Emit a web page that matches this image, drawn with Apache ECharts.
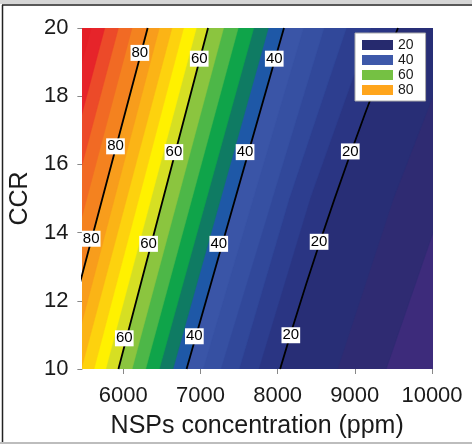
<!DOCTYPE html>
<html>
<head>
<meta charset="utf-8">
<script src="https://cdn.jsdelivr.net/npm/echarts@6/dist/echarts.min.js"></script>
<style>html,body{margin:0;padding:0;background:#fff;}#c{width:472px;height:444px;}</style>
</head>
<body>
<div id="c"></div>
<script>
// ---- data ----
const xMin = 5470, xMax = 10000;
const xTicks = [6000, 7000, 8000, 9000, 10000];
const yMin = 10, yMax = 20;
// band boundary levels (region with value >= level lies to the left of the boundary)
const levels = [8, 12, 16, 20, 24, 28, 32, 36, 40, 44, 48, 52, 56, 60, 64, 68, 72, 76, 80, 84, 88, 92, 96];
// x position of each boundary at CCR = 20, 15, 10
const boundTop = [11616, 10922, 10354, 9559, 9206, 8890, 8600, 8335, 8082, 7880, 7691, 7489, 7300, 7098, 6947, 6782, 6631, 6467, 6316, 6114, 5937, 5760, 5584];
const boundMid = [10859, 10165, 9500, 8739, 8420, 8150, 7931, 7685, 7451, 7262, 7079, 6890, 6707, 6517, 6360, 6202, 6044, 5886, 5729, 5527, 5350, 5173, 5003];
const boundBot = [10165, 9407, 8776, 8032, 7754, 7502, 7262, 7035, 6820, 6644, 6467, 6290, 6114, 5937, 5773, 5621, 5457, 5306, 5142, 4940, 4763, 4587, 4423];
const bandColors = ['#3d2b7b', '#2f2b72', '#282e76', '#2a3583', '#2d3e8f', '#31489a', '#3650a2', '#3a55a7', '#1e58a7', '#0f7b63', '#0fa44a', '#4db748', '#8bc53f', '#d6df23', '#fff100', '#fdd20e', '#fbb416', '#f89d1c', '#f4821f', '#f16a24', '#ec4a29', '#e6242a', '#e41e26'];
const baseColor = '#482d82';
// contour lines drawn
const contourLevels = [20, 40, 60, 80];
// contour label positions [x, CCR]
const label20 = [[8941, 16.38], [8537, 13.73], [8171, 10.99]];
const label40 = [[7956, 19.10], [7578, 16.36], [7237, 13.67], [6921, 10.96]];
const label60 = [[6984, 19.10], [6656, 16.36], [6328, 13.67], [6013, 10.90]];
const label80 = [[6215, 19.27], [5899, 16.53], [5584, 13.82]];
// legend
const legendNames = ['20', '40', '60', '80'];
const legendColors = ['#262a6e', '#3d58a9', '#75c143', '#ffa51c'];

const FONT = '"Liberation Sans", Arial, sans-serif';
const chart = echarts.init(document.getElementById('c'), null, {renderer: 'canvas'});

const series = [];
series.push({
  type: 'custom',
  clip: true,
  silent: true,
  z: 1,
  data: levels.map((l, i) => [i]),
  renderItem: function (params, api) {
    const i = api.value(0);
    const far = 0;
    const pts = [
      api.coord([far, yMax + 1]),
      api.coord([boundTop[i], yMax + 1]),
      api.coord([boundTop[i], yMax]),
      api.coord([boundMid[i], (yMin + yMax) / 2]),
      api.coord([boundBot[i], yMin]),
      api.coord([boundBot[i], yMin - 1]),
      api.coord([far, yMin - 1])
    ];
    return {type: 'polygon', shape: {points: pts}, style: {fill: bandColors[i], stroke: bandColors[i], lineWidth: 0.5}};
  }
});
contourLevels.forEach(function (lv) {
  const i = levels.indexOf(lv);
  series.push({
    type: 'line',
    clip: true,
    silent: true,
    z: 3,
    symbol: 'none',
    smooth: 0.5,
    lineStyle: {color: '#000', width: 1.8},
    data: [[boundTop[i], yMax], [boundMid[i], (yMin + yMax) / 2], [boundBot[i], yMin]]
  });
});
[[20, label20], [40, label40], [60, label60], [80, label80]].forEach(function (p) {
  series.push({
    type: 'scatter',
    silent: true,
    z: 5,
    symbolSize: 2,
    itemStyle: {color: 'rgba(0,0,0,0)', opacity: 1},
    data: p[1],
    label: {
      show: true, position: 'inside', formatter: String(p[0]),
      color: '#000', fontSize: 15, fontFamily: FONT,
      backgroundColor: '#fff', padding: [1, 1, 0, 1]
    },
    labelLayout: {hideOverlap: false}
  });
});
legendNames.forEach(function (n, k) {
  series.push({type: 'bar', name: n, data: [], itemStyle: {color: legendColors[k]}});
});

chart.setOption({
  animation: false,
  backgroundColor: '#fff',
  grid: {left: 73, right: 40, top: 28, bottom: 73, show: true, backgroundColor: baseColor, borderWidth: 0},
  xAxis: {
    type: 'value', min: xMin, max: xMax,
    name: 'NSPs concentration (ppm)', nameLocation: 'middle', nameGap: 45,
    nameTextStyle: {fontSize: 25, color: '#1a1a1a', fontFamily: FONT},
    axisLine: {show: false},
    axisTick: {show: true, length: 5, customValues: xTicks, lineStyle: {color: '#888'}},
    axisLabel: {customValues: xTicks, formatter: function (v) { return String(v); }, fontSize: 22, color: '#1a1a1a', margin: 16, fontFamily: FONT},
    splitLine: {show: false}
  },
  yAxis: {
    type: 'value', min: yMin, max: yMax, interval: 2,
    name: 'CCR', nameLocation: 'middle', nameGap: 42,
    nameTextStyle: {fontSize: 25, color: '#1a1a1a', fontFamily: FONT},
    axisLine: {show: false},
    axisTick: {show: true, length: 5, lineStyle: {color: '#888'}},
    axisLabel: {fontSize: 22, color: '#1a1a1a', margin: 14, fontFamily: FONT},
    splitLine: {show: false}
  },
  legend: {
    data: legendNames,
    orient: 'vertical', left: 355, top: 33,
    icon: 'rect', itemWidth: 31, itemHeight: 10, itemGap: 1,
    backgroundColor: '#fff', borderColor: '#aaa', borderWidth: 1,
    padding: [5, 12, 4, 7],
    textStyle: {fontSize: 14, color: '#1a1a1a', fontFamily: FONT, lineHeight: 14},
    selectedMode: false, z: 20
  },
  graphic: [
    {type: 'rect', shape: {x: 0, y: 0, width: 472, height: 4}, style: {fill: '#d6d6d6'}, z: 100},
    {type: 'line', shape: {x1: 2, y1: 5, x2: 472, y2: 5}, style: {stroke: '#222', lineWidth: 1.5}, z: 100},
    {type: 'line', shape: {x1: 2.5, y1: 5, x2: 2.5, y2: 442}, style: {stroke: '#222', lineWidth: 1.5}, z: 100},
    {type: 'rect', shape: {x: 0, y: 442, width: 472, height: 2}, style: {fill: '#bdbdbd'}, z: 100}
  ],
  series: series
});
</script>
</body>
</html>
